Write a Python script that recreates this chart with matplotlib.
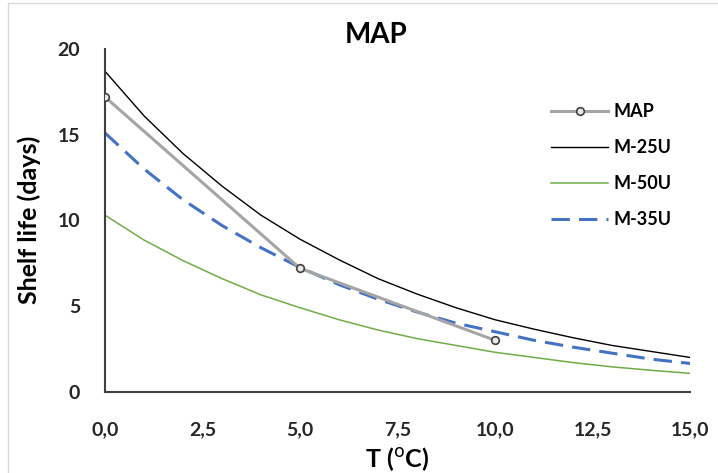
import matplotlib
matplotlib.use('Agg')
import matplotlib.pyplot as plt
from matplotlib.patches import Rectangle

plt.rcParams['font.family'] = ['Lato', 'DejaVu Sans']

# temperature grid (deg C)
temps = [0, 1, 2, 3, 4, 5, 6, 7, 8, 9, 10, 11, 12, 13, 14, 15]

# model curves, values
m25u = [18.7, 16.1, 13.9, 12.0, 10.3, 8.9, 7.7, 6.6, 5.7, 4.9, 4.2, 3.65, 3.15, 2.7, 2.35, 2.0]
m50u = [10.3, 8.85, 7.65, 6.6, 5.65, 4.9, 4.2, 3.6, 3.1, 2.7, 2.3, 2.0, 1.7, 1.45, 1.25, 1.07]
m35u = [15.1, 13.0, 11.2, 9.7, 8.4, 7.25, 6.25, 5.4, 4.65, 4.0, 3.5, 3.0, 2.6, 2.25, 1.9, 1.65]

# measured points
map_t = [0, 5, 10]
map_days = [17.2, 7.2, 3.0]

xticks = [0, 2.5, 5, 7.5, 10, 12.5, 15]
xtick_labels = ['0,0', '2,5', '5,0', '7,5', '10,0', '12,5', '15,0']
yticks = [0, 5, 10, 15, 20]

fig = plt.figure(figsize=(7.18, 4.73), dpi=100)
ax = fig.add_axes([105 / 718, 1 - 391.7 / 473, 585 / 718, 342.7 / 473])

# thin grey frame around the whole chart, like the Excel chart area
fig.patches.append(Rectangle((8 / 718, -0.01), 1.0, 1 - 3 / 473 + 0.01, transform=fig.transFigure,
                             fill=False, edgecolor='#d9d9d9', linewidth=1))

ax.plot(map_t, map_days, color='#a5a5a5', linewidth=2.2, marker='o', markersize=5.5,
        markerfacecolor='#e8e8e8', markeredgecolor='#404040', markeredgewidth=1.2, label='MAP', zorder=3)
ax.plot(temps, m25u, color='black', linewidth=1.0, label='M-25U')
ax.plot(temps, m50u, color='#70ad47', linewidth=1.1, label='M-50U')
ax.plot(temps, m35u, color='#4472c4', linewidth=2.2, dashes=(6, 3), label='M-35U')

ax.set_xlim(0, 15)
ax.set_ylim(0, 20)
ax.set_xticks(xticks)
ax.set_xticklabels(xtick_labels)
ax.set_yticks(yticks)
ax.tick_params(length=0, labelsize=14, colors='#262626')
ax.tick_params(axis='x', pad=21)
ax.tick_params(axis='y', pad=18)
for lbl in ax.get_xticklabels() + ax.get_yticklabels():
    lbl.set_fontweight('bold')

for s in ['top', 'right']:
    ax.spines[s].set_visible(False)
for s in ['left', 'bottom']:
    ax.spines[s].set_color('#404040')
    ax.spines[s].set_linewidth(1.5)

ax.set_ylabel('Shelf life (days)', fontsize=18, fontweight='bold', labelpad=12)
ax.set_xlabel(r'T ($^{\mathrm{o}}$C)', fontsize=18, fontweight='bold', labelpad=5)
fig.text(376 / 718, 1 - 35 / 473, 'MAP', ha='center', va='center', fontsize=20, fontweight='bold')

leg = ax.legend(loc='upper left', bbox_to_anchor=(0.735, 0.89), frameon=False,
                prop={'weight': 'bold', 'size': 13}, handlelength=3.15, handletextpad=0.3,
                labelspacing=1.05)

fig.savefig('out.png', dpi=100)
